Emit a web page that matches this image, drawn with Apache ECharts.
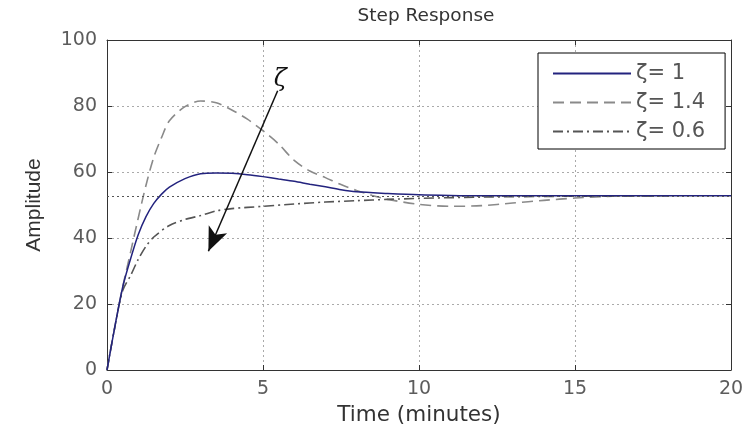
<!DOCTYPE html>
<html>
<head>
<meta charset="utf-8">
<script src="https://cdn.jsdelivr.net/npm/echarts@6/dist/echarts.min.js"></script>
<style>html,body{margin:0;padding:0;background:#fff}#c{width:753px;height:437px}</style>
</head>
<body>
<div id="c"></div>
<script>
// ---- data ----
const seriesNames = ['ζ= 1', 'ζ= 1.4', 'ζ= 0.6'];
const xTicks = [0, 5, 10, 15, 20];
const yTicks = [0, 20, 40, 60, 80, 100];

const timeZ1 = [0,0.25,0.5,0.75,1,1.25,1.5,1.75,2,2.5,3,3.5,4,4.5,5,5.5,6,6.5,7,7.5,8,9,10,11,12,13,14,16,18,20];
const ampZ1  = [0,13,25,33.5,41,46.5,50.5,53.3,55.4,58,59.5,59.7,59.6,59.2,58.6,57.9,57.2,56.3,55.5,54.6,54,53.5,53.1,52.9,52.8,52.8,52.8,52.8,52.8,52.8];

const timeZ14 = [0,0.25,0.5,0.75,1,1.25,1.5,1.75,2,2.5,3,3.5,4,4.5,5,5.5,6,6.5,7,7.5,8,8.5,9,10,11,12,13,14,15,16,17,18];
const ampZ14  = [0,13,25,35.5,46,56,64.5,70.5,75.5,79.8,81.5,81,78.8,76,72.5,68.5,63.5,60.3,58.3,56.2,54.4,52.9,51.7,50.2,49.6,49.8,50.6,51.4,52.1,52.6,52.8,52.8];

const timeZ06 = [0,0.25,0.5,0.75,1,1.25,1.5,2,2.5,3,3.5,4,5,6,7,8,9,10,12,14,16,18];
const ampZ06  = [0,13,24,28.5,33.5,37.5,40.3,43.8,45.6,46.8,48.2,48.9,49.6,50.3,50.9,51.3,51.7,52,52.4,52.6,52.7,52.8];

const steadyState = [52.8];
const arrowFrom = [5.47, 84.6];
const arrowTo = [3.25, 36];
const zetaLabel = [5.55, 88];
const zetaText = 'ζ';

const titleText = 'Step Response';
const xName = 'Time (minutes)';
const yName = 'Amplitude';

function pairs(t, v) { return t.map((x, i) => [x, v[i]]); }

const FONT = '"DejaVu Sans", sans-serif';
const FONT_Y = '"Liberation Sans", Arial, sans-serif';
const chart = echarts.init(document.getElementById('c'), null, {renderer: 'canvas'});

const axisCommon = {
  type: 'value',
  axisLine: {show: true, onZero: false, lineStyle: {color: '#333', width: 1}},
  axisTick: {show: true, inside: true, length: 5, lineStyle: {color: '#333'}},
};

chart.setOption({
  animation: false,
  backgroundColor: '#fff',
  title: {
    text: titleText, left: 421, top: 2, textAlign: 'center',
    textStyle: {fontFamily: FONT, fontSize: 18.5, fontWeight: 'normal', color: '#333'}
  },
  grid: {left: 107, right: 22, top: 40, bottom: 67, show: false},
  legend: {
    orient: 'vertical', left: 538, top: 53,
    padding: [10, 20, 7, 14],
    itemWidth: 78, itemHeight: 20, itemGap: 8,
    backgroundColor: '#fff', borderColor: '#000', borderWidth: 1,
    itemStyle: {opacity: 0},
    textStyle: {fontFamily: FONT, fontSize: 21, color: '#555'},
    data: seriesNames
  },
  xAxis: [
    Object.assign({}, axisCommon, {
      min: xTicks[0], max: xTicks[xTicks.length - 1], interval: xTicks[1] - xTicks[0],
      position: 'bottom',
      axisLabel: {fontFamily: FONT, fontSize: 19, color: '#5c5c5c', margin: 10},
      splitLine: {show: true, lineStyle: {color: '#aaa', type: [2, 3], width: 1}},
      name: xName, nameLocation: 'middle', nameGap: 34,
      nameTextStyle: {fontFamily: FONT, fontSize: 21.5, color: '#333'}
    }),
    Object.assign({}, axisCommon, {
      min: xTicks[0], max: xTicks[xTicks.length - 1], interval: xTicks[1] - xTicks[0],
      position: 'top', axisLabel: {show: false}, splitLine: {show: false}
    })
  ],
  yAxis: [
    Object.assign({}, axisCommon, {
      min: yTicks[0], max: yTicks[yTicks.length - 1], interval: yTicks[1] - yTicks[0],
      position: 'left',
      axisLabel: {fontFamily: FONT, fontSize: 19, color: '#5c5c5c', margin: 10},
      splitLine: {show: true, lineStyle: {color: '#aaa', type: [2, 3], width: 1}},
      name: yName, nameLocation: 'middle', nameGap: 62,
      nameTextStyle: {fontFamily: FONT_Y, fontSize: 21, color: '#333'}
    }),
    Object.assign({}, axisCommon, {
      min: yTicks[0], max: yTicks[yTicks.length - 1], interval: yTicks[1] - yTicks[0],
      position: 'right', axisLabel: {show: false}, splitLine: {show: false}
    })
  ],
  series: [
    {
      name: seriesNames[1], type: 'line', symbol: 'none', smooth: 0.3,
      data: pairs(timeZ14, ampZ14),
      lineStyle: {color: '#8a8a8a', width: 1.6, type: [11, 6]},
      itemStyle: {color: '#8a8a8a'}, z: 2
    },
    {
      name: seriesNames[2], type: 'line', symbol: 'none', smooth: 0.3,
      data: pairs(timeZ06, ampZ06),
      lineStyle: {color: '#555', width: 1.6, type: [10, 4, 2, 4]},
      itemStyle: {color: '#555'}, z: 2
    },
    {
      name: seriesNames[0], type: 'line', symbol: 'none', smooth: 0.3,
      data: pairs(timeZ1, ampZ1),
      lineStyle: {color: '#23237e', width: 1.5, type: 'solid'},
      itemStyle: {color: '#23237e'}, z: 3,
      markLine: {
        silent: true, symbol: 'none', label: {show: false},
        data: [
          {yAxis: steadyState[0], lineStyle: {color: '#555', width: 1, type: [2, 3]}},
          [
            {coord: arrowFrom, symbol: 'none', lineStyle: {color: '#111', width: 1.5, type: 'solid'}},
            {coord: arrowTo, symbol: 'arrow', symbolSize: [15, 24]}
          ]
        ]
      },
      markPoint: {
        silent: true,
        data: [{coord: zetaLabel, symbol: 'circle', symbolSize: 1,
          itemStyle: {color: 'rgba(0,0,0,0)'},
          label: {show: true, position: 'inside', formatter: zetaText,
            fontFamily: 'DejaVu Serif, serif', fontStyle: 'italic', fontSize: 24, color: '#111'}}]
      }
    }
  ]
});
</script>
</body>
</html>
